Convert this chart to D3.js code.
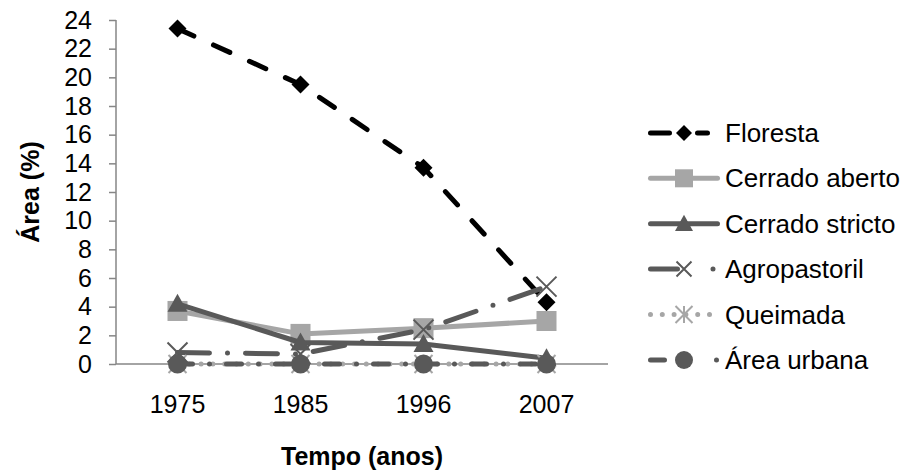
<!DOCTYPE html>
<html>
<head>
<meta charset="utf-8">
<script src="https://cdn.jsdelivr.net/npm/d3@7"></script>
<style>
  body { margin: 0; background: #fff; }
  svg { display: block; }
  text { font-family: "Liberation Sans", Arial, sans-serif; fill: #000; }
</style>
</head>
<body>
<svg id="chart" width="906" height="472"></svg>
<script>
// Land-cover share per survey year
const years = ["1975", "1985", "1996", "2007"];
const floresta       = [23.4, 19.5, 13.7, 4.3];
const cerradoAberto  = [3.7, 2.1, 2.5, 3.0];
const cerradoStricto = [4.2, 1.5, 1.4, 0.4];
const agropastoril   = [0.8, 0.7, 2.4, 5.4];
const queimada       = [0, 0, 0, 0];
const areaUrbana     = [0, 0, 0, 0];
const seriesNames = ["Floresta", "Cerrado aberto", "Cerrado stricto", "Agropastoril", "Queimada", "Área urbana"];
const yTicks = [0, 2, 4, 6, 8, 10, 12, 14, 16, 18, 20, 22, 24];

const DARK = "#595959", LIGHT = "#a6a6a6", AXIS = "#868686";

// Visual style of each series (line, dash pattern, marker)
const styles = [
  { color: "#000", dash: "18 21.5", legendDash: "19 28 10 100", marker: "diamond" },
  { color: LIGHT, dash: null, legendDash: null, marker: "square" },
  { color: DARK, dash: null, legendDash: null, marker: "triangle" },
  { color: DARK, dash: "32 18 0 18", legendDash: "27 35.5 0 100", marker: "x" },
  { color: LIGHT, dash: "0 11.8", legendDash: "0 11.8", marker: "star", width: 5 },
  { color: DARK, dash: "15 17 0 17", legendDash: "14 52 0 100", marker: "circle" }
];
const values = [floresta, cerradoAberto, cerradoStricto, agropastoril, queimada, areaUrbana];

const svg = d3.select("#chart");
const x = d3.scaleBand().domain(years).range([116, 608]);
const cx = d => x(d) + x.bandwidth() / 2;
const y = d3.scaleLinear().domain([0, 24]).range([364, 20]);

// Y axis
const yAxis = svg.append("g").attr("transform", "translate(116,0)")
  .call(d3.axisLeft(y).tickValues(yTicks).tickSize(7).tickPadding(17).tickFormat(d3.format("d")));
yAxis.select(".domain").attr("stroke", AXIS).attr("stroke-width", 1.5).attr("d", "M0,20V364");
yAxis.selectAll(".tick line").attr("stroke", AXIS).attr("stroke-width", 1.5);
yAxis.selectAll(".tick text").attr("font-size", 25).attr("fill", "#000")
  .attr("font-family", "Liberation Sans, Arial, sans-serif");

// X axis along zero
const xAxis = svg.append("g").attr("transform", `translate(0,${y(0)})`)
  .call(d3.axisBottom(x).tickSize(0).tickPadding(31));
xAxis.select(".domain").attr("stroke", AXIS).attr("stroke-width", 1.5).attr("d", "M116,0H608");
xAxis.selectAll(".tick text").attr("font-size", 25).attr("fill", "#000")
  .attr("font-family", "Liberation Sans, Arial, sans-serif");

// Axis titles
svg.append("text").attr("x", 362).attr("y", 465).attr("text-anchor", "middle")
  .attr("font-size", 25).attr("font-weight", "bold").text("Tempo (anos)");
svg.append("text").attr("transform", "translate(39,192) rotate(-90)").attr("text-anchor", "middle")
  .attr("font-size", 25).attr("font-weight", "bold").text("Área (%)");

function drawMarker(g, type, px, py, s, color) {
  const h = s / 2;
  if (type === "diamond") {
    g.append("path").attr("d", `M${px},${py - h}L${px + h},${py}L${px},${py + h}L${px - h},${py}Z`).attr("fill", color);
  } else if (type === "square") {
    g.append("rect").attr("x", px - h).attr("y", py - h).attr("width", s).attr("height", s).attr("fill", color);
  } else if (type === "triangle") {
    g.append("path").attr("d", `M${px},${py - h}L${px + h},${py + h * 0.8}L${px - h},${py + h * 0.8}Z`).attr("fill", color);
  } else if (type === "x") {
    g.append("path").attr("d", `M${px - h},${py - h}L${px + h},${py + h}M${px + h},${py - h}L${px - h},${py + h}`)
      .attr("stroke", color).attr("stroke-width", 2).attr("fill", "none");
  } else if (type === "star") {
    g.append("path").attr("d", `M${px - h},${py - h}L${px + h},${py + h}M${px + h},${py - h}L${px - h},${py + h}M${px},${py - h}L${px},${py + h}`)
      .attr("stroke", color).attr("stroke-width", 2).attr("fill", "none");
  } else if (type === "circle") {
    g.append("circle").attr("cx", px).attr("cy", py).attr("r", h).attr("fill", color);
  }
}

const markerSize = { diamond: 18, square: 20, triangle: 20, x: 20, star: 18, circle: 19 };
const legendSize = { diamond: 16, square: 18, triangle: 18, x: 15, star: 17, circle: 18 };

const line = d3.line().x(d => cx(d.year)).y(d => y(d.v));

// Series, drawn in order so later ones sit on top
values.forEach((vals, i) => {
  const st = styles[i];
  const pts = years.map((yr, j) => ({ year: yr, v: vals[j] }));
  const g = svg.append("g");
  g.append("path").datum(pts).attr("d", line)
    .attr("fill", "none").attr("stroke", st.color).attr("stroke-width", st.width || 5)
    .attr("stroke-linecap", "round").attr("stroke-linejoin", "round")
    .attr("stroke-dasharray", st.dash);
  pts.forEach(p => drawMarker(g, st.marker, cx(p.year), y(p.v), markerSize[st.marker], st.color));
});

// Legend
const legendY = [133, 178.3, 223.7, 269, 314.5, 360];
seriesNames.forEach((name, i) => {
  const st = styles[i];
  const g = svg.append("g");
  const ly = legendY[i];
  g.append("path").attr("d", `M650.5,${ly}H717.5`)
    .attr("fill", "none").attr("stroke", st.color).attr("stroke-width", st.width || 5)
    .attr("stroke-linecap", "round").attr("stroke-dasharray", st.legendDash);
  drawMarker(g, st.marker, 684, ly, legendSize[st.marker], st.color);
  g.append("text").attr("x", 725).attr("y", ly).attr("dy", "0.35em")
    .attr("font-size", 26).text(name);
});
</script>
</body>
</html>
